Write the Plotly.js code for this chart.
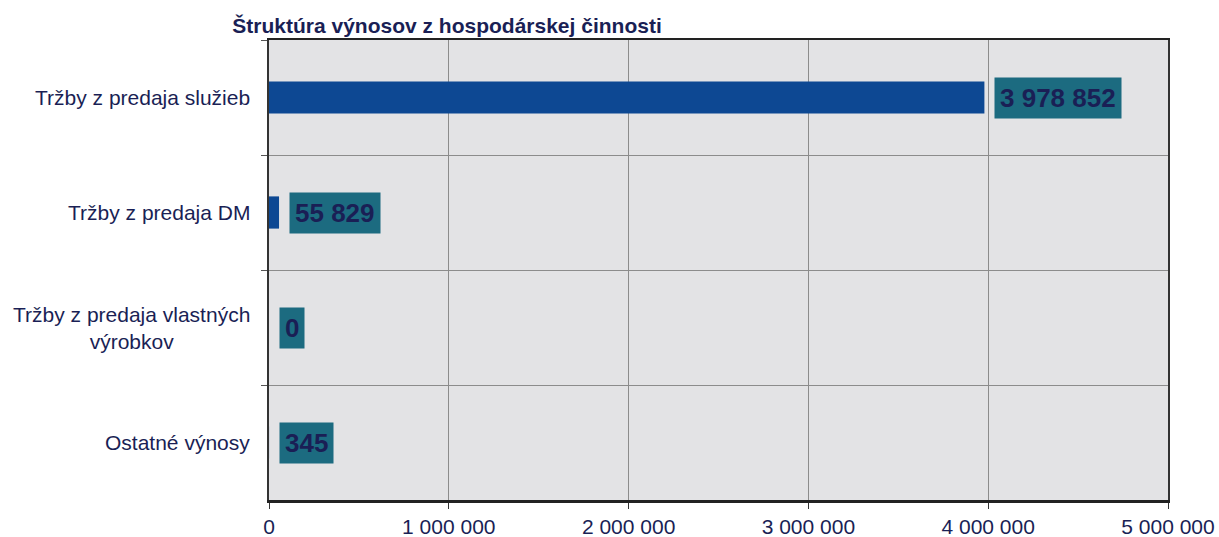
<!DOCTYPE html>
<html>
<head>
<meta charset="utf-8">
<script src="https://cdn.plot.ly/plotly-3.0.1.min.js"></script>
<style>html,body{margin:0;padding:0;background:#fff;}#chart{width:1219px;height:537px;}</style>
</head>
<body>
<div id="chart"></div>
<script>
const categories = [
  "Tržby z predaja služieb",
  "Tržby z predaja DM",
  "Tržby z predaja vlastných<br>výrobkov",
  "Ostatné výnosy"
];
const values = [3978852, 55829, 0, 345];
const tickVals = [0, 1000000, 2000000, 3000000, 4000000, 5000000];
const tickText = ["0", "1 000 000", "2 000 000", "3 000 000", "4 000 000", "5 000 000"];
const chartTitle = "Štruktúra výnosov z hospodárskej činnosti";

const navy = "#1a1f55";
const fontFam = "Liberation Sans, Arial, sans-serif";

function fmt(v) {
  return String(v).replace(/\B(?=(\d{3})+(?!\d))/g, " ");
}

const trace = {
  type: "bar",
  orientation: "h",
  x: values,
  y: categories,
  width: 0.28,
  marker: { color: "#0d4893" },
  hoverinfo: "skip"
};

const annotations = values.map((v, i) => ({
  x: v,
  y: categories[i],
  xref: "x",
  yref: "y",
  text: "<b>" + fmt(v) + "</b>",
  showarrow: false,
  xanchor: "left",
  yanchor: "middle",
  xshift: 10,
  bgcolor: "#1c6b80",
  borderpad: 5,
  font: { family: fontFam, size: 26, color: navy }
}));

categories.forEach((c, i) => {
  annotations.push({
    x: 0,
    xref: "paper",
    y: c,
    yref: "y",
    text: c,
    showarrow: false,
    xanchor: "right",
    yanchor: "middle",
    align: "center",
    xshift: -17,
    font: { family: fontFam, size: 21, color: navy }
  });
});

const layout = {
  width: 1219,
  height: 537,
  margin: { l: 269, r: 51, t: 40, b: 37 },
  paper_bgcolor: "#ffffff",
  plot_bgcolor: "#e3e3e5",
  showlegend: false,
  font: { family: fontFam, color: navy },
  title: {
    text: "<b>" + chartTitle + "</b>",
    xref: "container", yref: "container",
    x: 447 / 1219, y: 1 - 26 / 537,
    xanchor: "center", yanchor: "middle",
    font: { family: fontFam, size: 21, color: navy }
  },
  xaxis: {
    range: [0, 5000000],
    tickvals: tickVals,
    ticktext: tickText,
    ticks: "outside",
    ticklen: 6,
    tickcolor: "#333",
    showgrid: true,
    gridcolor: "#8c8c8c",
    gridwidth: 1,
    showline: true,
    linecolor: "#222",
    linewidth: 2.5,
    mirror: true,
    zeroline: false,
    tickfont: { family: fontFam, size: 21, color: navy },
    fixedrange: true
  },
  yaxis: {
    autorange: "reversed",
    type: "category",
    tickson: "boundaries",
    ticks: "outside",
    ticklen: 6,
    tickcolor: "#555",
    showticklabels: false,
    showgrid: true,
    gridcolor: "#8c8c8c",
    gridwidth: 1,
    showline: true,
    linecolor: "#333",
    linewidth: 2,
    mirror: true,
    fixedrange: true
  },
  annotations: annotations
};

Plotly.newPlot("chart", [trace], layout, { displayModeBar: false, staticPlot: true });
</script>
</body>
</html>
